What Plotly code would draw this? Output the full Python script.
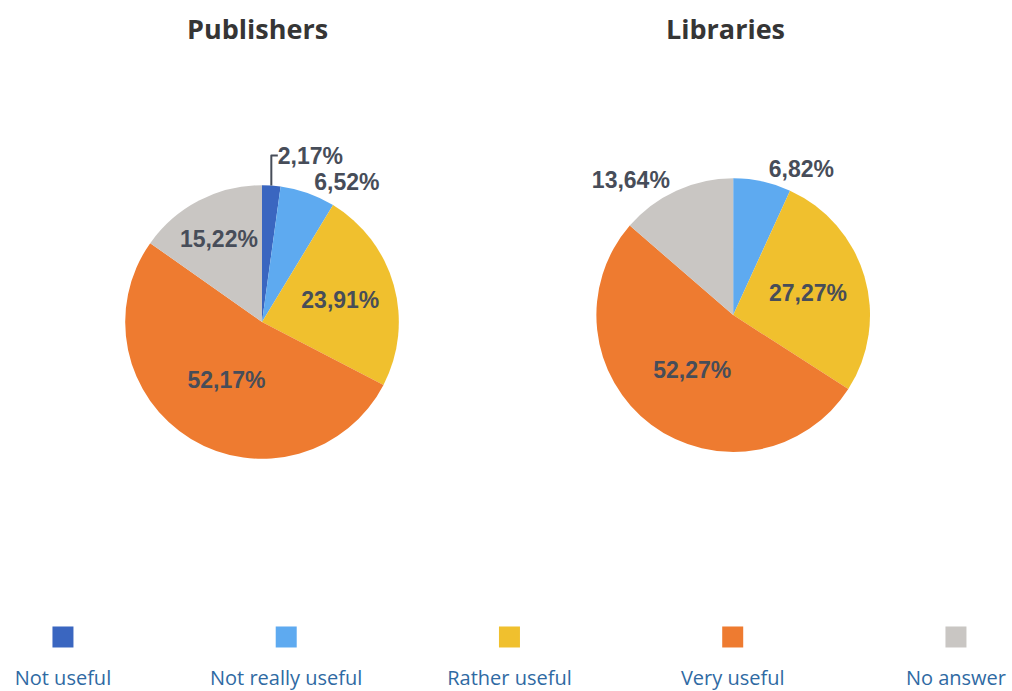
import plotly.graph_objects as go

# categories and answer shares (%)
categories = ["Not useful", "Not really useful", "Rather useful", "Very useful", "No answer"]
colors = ["#3a66c0", "#5eaaf0", "#f0c02e", "#ee7b30", "#c9c6c3"]
publishers = [2.17, 6.52, 23.91, 52.17, 15.22]
libraries = [0.0, 6.82, 27.27, 52.27, 13.64]


def pct_labels(vals):
    return [("%.2f%%" % v).replace(".", ",") if v > 0 else "" for v in vals]


fig = go.Figure()

label_font = dict(family="Liberation Sans", size=23, color="#474d59", weight="bold")

fig.add_trace(go.Pie(
    labels=categories, values=publishers, text=pct_labels(publishers),
    textinfo="text", sort=False, direction="clockwise", rotation=0,
    marker=dict(colors=colors, line=dict(width=0)),
    textposition=["outside", "outside", "inside", "inside", "inside"],
    insidetextorientation="horizontal", textfont=label_font,
    domain=dict(x=[0.1235, 0.3943], y=[0.336, 0.732]),
    showlegend=False, hoverinfo="label+percent"
))

fig.add_trace(go.Pie(
    labels=categories, values=libraries, text=pct_labels(libraries),
    textinfo="text", sort=False, direction="clockwise", rotation=0,
    marker=dict(colors=colors, line=dict(width=0)),
    textposition=["none", "outside", "inside", "inside", "outside"],
    insidetextorientation="horizontal", textfont=label_font,
    domain=dict(x=[0.589, 0.860], y=[0.346, 0.742]),
    showlegend=False, hoverinfo="label+percent"
))

# legend: swatches above labels
fig.add_trace(go.Scatter(
    x=categories, y=[0] * len(categories), mode="markers",
    marker=dict(symbol="square", size=21, color=colors),
    showlegend=False, hoverinfo="skip"
))
fig.add_trace(go.Scatter(
    x=categories, y=[-1] * len(categories), mode="text", text=categories,
    textfont=dict(family="Open Sans", size=20, color="#2f6aa3"),
    showlegend=False, hoverinfo="skip"
))

title_font = dict(family="Open Sans", size=27, color="#353535")
fig.update_layout(
    width=1012, height=691,
    margin=dict(l=0, r=0, t=0, b=0),
    paper_bgcolor="white", plot_bgcolor="white",
    xaxis=dict(domain=[0, 1], range=[-0.282, 4.251], visible=False, fixedrange=True),
    yaxis=dict(domain=[0, 0.1], range=[-1.256, 0.351], visible=False, fixedrange=True),
    annotations=[
        dict(text="<b>Publishers</b>", x=0.254, y=1 - 28 / 691, xref="paper", yref="paper",
             xanchor="center", yanchor="middle", showarrow=False, font=title_font),
        dict(text="<b>Libraries</b>", x=0.717, y=1 - 28 / 691, xref="paper", yref="paper",
             xanchor="center", yanchor="middle", showarrow=False, font=title_font),
    ],
)

fig.write_html("out.html", config={"displayModeBar": False},
               post_script="document.body.style.margin='0';")
